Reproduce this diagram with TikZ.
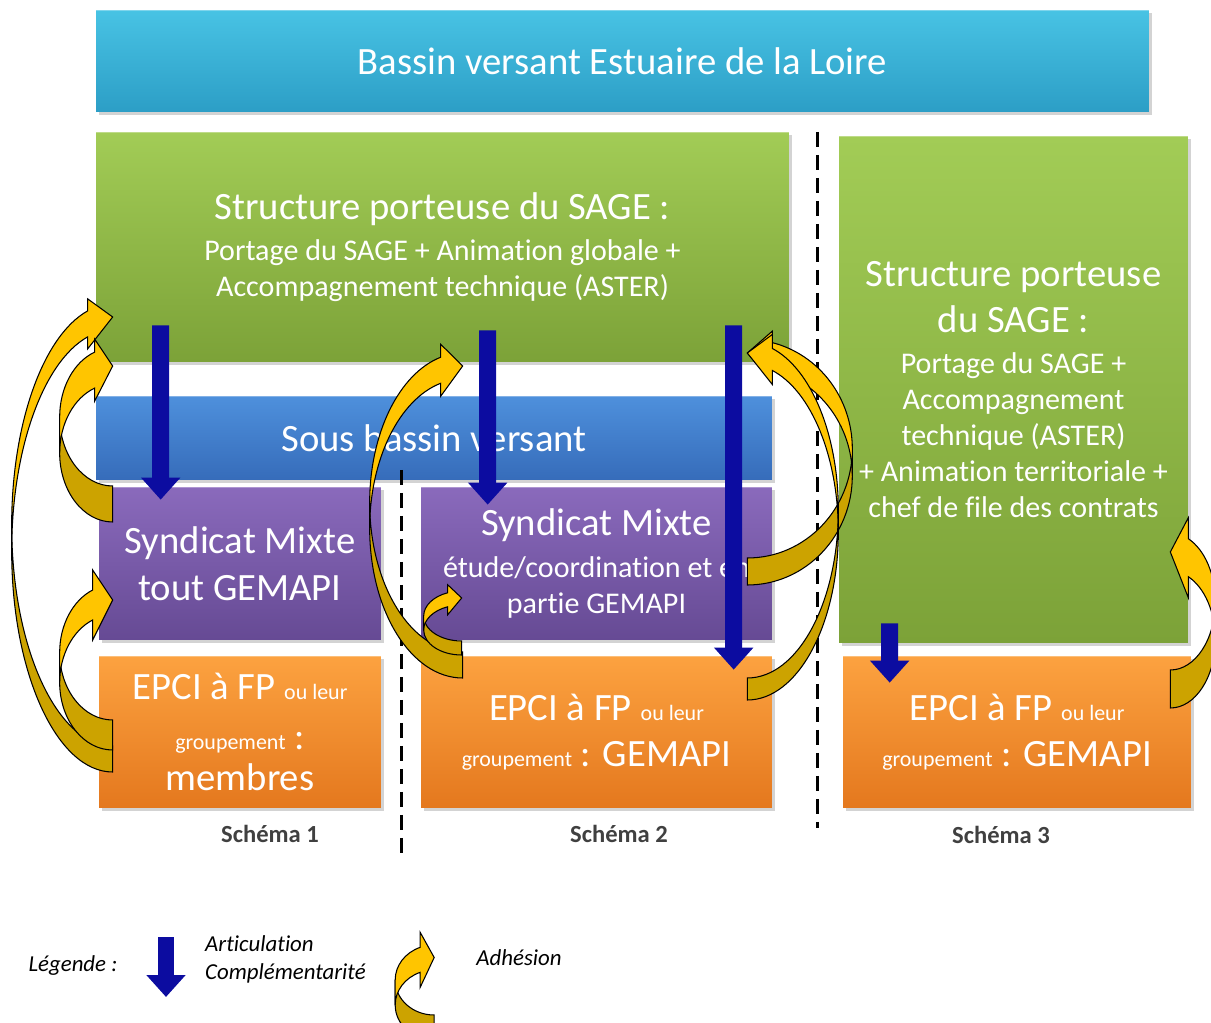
\documentclass[tikz,border=0pt]{standalone}
\usepackage{fontspec}
\setmainfont{Carlito}[Ligatures=NoCommon]
\usetikzlibrary{arrows.meta,calc,shadows,positioning}

\definecolor{cyanT}{RGB}{72,195,228}
\definecolor{cyanB}{RGB}{44,158,198}
\definecolor{grnT}{RGB}{162,204,86}
\definecolor{grnB}{RGB}{124,162,56}
\definecolor{bluT}{RGB}{78,144,220}
\definecolor{bluB}{RGB}{54,108,186}
\definecolor{purT}{RGB}{138,106,188}
\definecolor{purB}{RGB}{102,74,148}
\definecolor{orgT}{RGB}{252,162,64}
\definecolor{orgB}{RGB}{228,120,30}
\definecolor{artcol}{RGB}{12,12,160}
\definecolor{adhL}{RGB}{255,197,0}
\definecolor{adhD}{RGB}{204,163,0}
\definecolor{lbl}{RGB}{64,64,64}

\newcommand\fbig{\fontsize{22}{26}\selectfont}
\newcommand\fmid{\fontsize{17.1}{20.4}\selectfont}
\newcommand\fsma{\fontsize{12.5}{15}\selectfont}

\tikzset{
  box/.style={rectangle, inner sep=0pt, text=white, align=center,
    drop shadow={shadow xshift=1.5pt, shadow yshift=-1.5pt, opacity=0.35},
    path picture={\draw[white, opacity=0.3, line width=1.5pt]
      (path picture bounding box.north west) -- (path picture bounding box.north east);}},
  bassinbox/.style={box, top color=cyanT, bottom color=cyanB},
  greenbox/.style={box, top color=grnT, bottom color=grnB},
  bluebox/.style={box, top color=bluT, bottom color=bluB},
  purplebox/.style={box, top color=purT, bottom color=purB},
  orangebox/.style={box, top color=orgT, bottom color=orgB},
  schema/.style={text=lbl, font=\bfseries\fontsize{14}{16}\selectfont},
  legend/.style={font=\itshape\fontsize{13}{15.9}\selectfont},
  sep/.style={line width=0.06cm, dash pattern=on 0.3cm off 0.16cm},
  artic/.style={line width=0.34cm, draw=artcol, -{Triangle[width=0.76cm,length=0.44cm]}},
  % curved block arrow: bulge width, height, band, head width, head length
  pics/adh/.style n args={5}{code={%
    \pgfmathsetmacro\adW{#1}%
    \pgfmathsetmacro\adH{#2}%
    \pgfmathsetmacro\adT{#3}%
    \pgfmathsetmacro\adA{#4}%
    \pgfmathsetmacro\adL{#5}%
    \pgfmathsetmacro\adR{\adH/2-(\adT+\adA)/4}%
    \pgfmathsetmacro\adDy{\adR*sqrt(1-(\adL/\adW)^2)}%
    \pgfmathsetmacro\adAng{acos(-\adL/\adW)}%
    \pgfmathsetmacro\adYa{\adR+\adDy-(\adA-\adT)/2}%
    \pgfmathsetmacro\adYb{\adR+\adT+\adDy+(\adA-\adT)/2}%
    \pgfmathsetmacro\adYc{\adR+\adT+\adDy}%
    \pgfmathsetmacro\adYt{\adH-\adA/2}%
    \path[fill=adhD, draw=black, line width=0.6pt]
      (0,\adT) arc[start angle=-90, end angle=-180, x radius=\adW, y radius=\adR]
      -- (-\adW,\adR) arc[start angle=180, end angle=270, x radius=\adW, y radius=\adR]
      -- cycle;
    \path[fill=adhL, draw=black, line width=0.6pt]
      (-\adW,\adR) arc[start angle=180, end angle=\adAng, x radius=\adW, y radius=\adR]
      -- (-\adL,\adYa) -- (0,\adYt) -- (-\adL,\adYb) -- (-\adL,\adYc)
      arc[start angle=\adAng, end angle=180, x radius=\adW, y radius=\adR]
      -- cycle;
  }}
}

\begin{document}
\begin{tikzpicture}[x=0.02cm, y=0.02cm]
  \useasboundingbox (0,0) rectangle (1211,-1023);

  % boxes
  \node[bassinbox, minimum width=21.06cm, minimum height=2.04cm, font=\fbig] (bassin) at (622.5,-61)
       {Bassin versant Estuaire de la Loire};
  \node[greenbox, minimum width=13.86cm, minimum height=4.6cm, font=\fmid] (str1) at (442.5,-247)
       {{\fbig Structure porteuse du SAGE :}\\[3.4pt] Portage du SAGE + Animation globale +\\ Accompagnement technique (ASTER)};
  \node[greenbox, minimum width=6.98cm, minimum height=10.14cm, font=\fmid] (str3) at (1013.5,-389.5)
       {{\fbig Structure porteuse}\\[5.6pt] {\fbig du SAGE :}\\[3.4pt] Portage du SAGE +\\ Accompagnement\\ technique (ASTER)\\ + Animation territoriale +\\ chef de file des contrats};
  \node[bluebox, minimum width=13.52cm, minimum height=1.68cm, font=\fbig] (sbv) at (434,-438)
       {Sous bassin versant};
  \node[purplebox, minimum width=5.64cm, minimum height=3.06cm, font=\fontsize{22}{26.6}\selectfont] (sm1) at (240,-563.5)
       {Syndicat Mixte\\ tout GEMAPI};
  \node[purplebox, minimum width=7.02cm, minimum height=3.06cm, font=\fmid] (sm2) at (596.5,-563.5)
       {{\fbig Syndicat Mixte}\\[3.4pt] étude/coordination et en\\ partie GEMAPI};
  \node[orangebox, minimum width=5.64cm, minimum height=3.04cm, font=\fontsize{22}{23.8}\selectfont] (ep1) at (240,-732)
       {EPCI à FP {\fsma ou leur}\\[4.5pt] {\fsma groupement} :\\ membres};
  \node[orangebox, minimum width=7.02cm, minimum height=3.04cm, font=\fbig] (ep2) at (596.5,-732)
       {EPCI à FP {\fsma ou leur}\\ {\fsma groupement} : GEMAPI};
  \node[orangebox, minimum width=6.96cm, minimum height=3.04cm, font=\fbig] (ep3) at (1017,-732)
       {EPCI à FP {\fsma ou leur}\\ {\fsma groupement} : GEMAPI};

  \node[schema] (sch1) at (270,-834) {Schéma 1};
  \node[schema] (sch2) at (619,-834) {Schéma 2};
  \node[schema] (sch3) at (1001,-835) {Schéma 3};

  % separators
  \draw[sep] (401,-470) -- (401,-858);
  \draw[sep] (817,-132) -- (817,-828);

  % articulation
  \draw[artic] ($(str1.south west)+(65,37)$) -- ($(sm1.north west)+(62,-13)$);
  \draw[artic] ($(str1.south west)+(392,32)$) -- ($(sm2.north west)+(67,-18)$);
  \draw[artic] ($(str1.south west)+(638,37)$) -- ($(ep2.north west)+(313,-14)$);
  \draw[artic] ($(str3.south west)+(51,20)$) -- ($(ep3.north west)+(47,-27)$);

  % adhesion
  \pic at ($(ep1.west)+(14,-40)$) {adh={101}{480}{26}{50}{25}};
  \pic at ($(sm1.west)+(14,41.5)$) {adh={53}{187}{36}{62}{18}};
  \pic at ($(ep1.west)+(14,-18)$) {adh={53}{185}{30}{70}{20}};
  \pic at ($(ep2.west)+(42,54)$) {adh={93}{338}{26}{52}{22}};
  \pic at ($(ep2.west)+(41,77)$) {adh={38}{72}{14}{30}{14}};
  \pic[xscale=-1] at ($(sm2.east)+(-25,-21.5)$) {adh={105}{257}{27}{50}{25}};
  \pic[xscale=-1] at ($(ep2.east)+(-25,32)$) {adh={91}{372}{22}{50}{25}};
  \pic[xscale=-1] at ($(ep3.east)+(-21,24)$) {adh={45}{196}{38}{80}{18}};

  % legend
  \node[legend] (legT) at (73,-966) {Légende :};
  \node[legend, align=left, anchor=west] (legB) at (199,-959) {Articulation\\ Complémentarité};
  \node[legend] (legA) at (519,-958) {Adhésion};
  \draw[artic] ($(legB.west)+(-33,22)$) -- ($(legB.west)+(-33,-38)$);
  \pic at ($(legA.west)+(-36,-82)$) {adh={39}{110}{25}{55}{14}};
\end{tikzpicture}
\end{document}
